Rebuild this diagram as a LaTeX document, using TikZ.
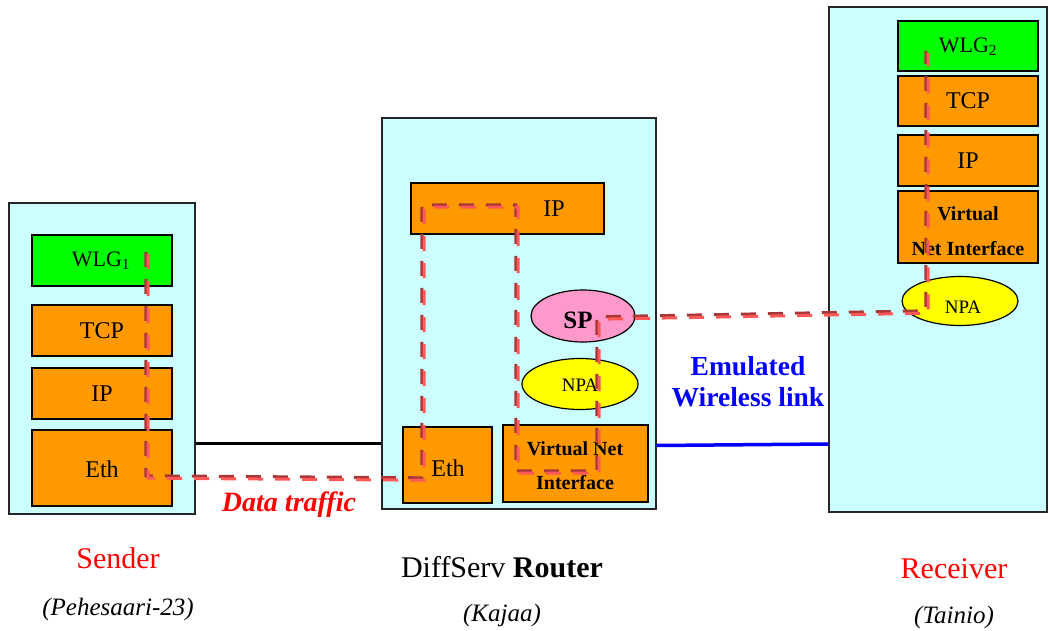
\documentclass[tikz,border=0pt]{standalone}
\usepackage{fontspec}
\setmainfont{Liberation Serif}
\usetikzlibrary{shapes.geometric}
\definecolor{cyanbg}{HTML}{CCFFFF}
\definecolor{orng}{HTML}{FF9900}
\definecolor{grn}{HTML}{00FF00}
\definecolor{pnk}{HTML}{FF99CC}
\definecolor{yel}{HTML}{FFFF00}
\definecolor{dred}{HTML}{A83838}
\definecolor{lred}{HTML}{FF5858}
\definecolor{txtred}{HTML}{FF0000}
\definecolor{txtblue}{HTML}{0000FF}
\newcommand{\fsz}[1]{\fontsize{#1}{#1}\selectfont}
\begin{document}
\begin{tikzpicture}[x=1pt,y=-1pt,
  host/.style={draw=black!85, line width=1.3pt, fill=cyanbg, rectangle, inner sep=0pt},
  layer/.style={draw=black, line width=1.3pt, fill=orng, rectangle, inner sep=0pt},
  app/.style={layer, fill=grn},
  oval/.style={draw=black, line width=1.2pt, ellipse, inner sep=0pt},
  lbl/.style={font=\fsz{24}, inner sep=0pt},
  blbl/.style={font=\fsz{20}\bfseries, inner sep=0pt},
  flowdark/.style={draw=dred, line width=3pt, dash pattern=on 15pt off 12pt, transform canvas={shift={(-1.2pt,1.2pt)}}},
  flowlight/.style={draw=lred, line width=3pt, dash pattern=on 15pt off 12pt, transform canvas={shift={(1.2pt,-1.2pt)}}},
]
\useasboundingbox (0,0) rectangle (1049,631);

% Sender
\node[host, minimum width=186pt, minimum height=311pt] (sender) at (102,358.5) {};
\node[app, minimum width=140pt, minimum height=51pt] (wlg1) at (102,260.5) {};
\node[layer, minimum width=140pt, minimum height=51pt] (stcp) at (102,330.5) {};
\node[layer, minimum width=140pt, minimum height=51pt] (sip) at (102,393.5) {};
\node[layer, minimum width=140pt, minimum height=76pt] (seth) at (102,468) {};
\node[font=\fsz{22}, inner sep=0pt] at (101,261) {WLG\textsubscript{1}};
\node[lbl] at (102,331) {TCP};
\node[lbl] at (102,394) {IP};
\node[lbl] at (102,469) {Eth};

% Router
\node[host, minimum width=274pt, minimum height=391pt] (router) at (519,313.5) {};
\node[layer, minimum width=193pt, minimum height=51pt] (rip) at (507.5,208.5) {};
\node[oval, fill=pnk, minimum width=104pt, minimum height=52pt] (sp) at (583,316) {};
\node[oval, fill=yel, minimum width=116pt, minimum height=51pt] (rnpa) at (580,384) {};
\node[layer, minimum width=89pt, minimum height=76pt] (reth) at (447.5,465) {};
\node[layer, minimum width=145pt, minimum height=77pt] (rvni) at (575.5,463.5) {};
\node[lbl] at (554,209) {IP};
\node[font=\fsz{25}\bfseries, inner sep=0pt] at (578,320) {SP};
\node[font=\fsz{19}, inner sep=0pt] at (580,385) {NPA};
\node[lbl] at (448,468) {Eth};
\node[blbl] at (575,449) {Virtual Net};
\node[blbl] at (575,483) {Interface};

% Receiver
\node[host, minimum width=218pt, minimum height=505pt] (receiver) at (938,259.5) {};
\node[app, minimum width=140pt, minimum height=50pt] (wlg2) at (968,46) {};
\node[layer, minimum width=140pt, minimum height=50pt] (qtcp) at (968,101) {};
\node[layer, minimum width=140pt, minimum height=51pt] (qip) at (968,160.5) {};
\node[layer, minimum width=140pt, minimum height=72pt] (qvni) at (968,227) {};
\node[oval, fill=yel, minimum width=116pt, minimum height=49pt] (qnpa) at (960,301) {};
\node[font=\fsz{22}, inner sep=0pt] at (968,47) {WLG\textsubscript{2}};
\node[lbl] at (968,101) {TCP};
\node[lbl] at (968,161) {IP};
\node[blbl] at (968,214) {Virtual};
\node[blbl] at (968,249) {Net Interface};
\node[font=\fsz{19}, inner sep=0pt] at (963,307) {NPA};

% Links
\coordinate (w1) at (sender.east |- 0,443);
\coordinate (w2) at (router.west |- 0,443);
\draw[line width=3pt, black] (w1) -- (w2);
\coordinate (b1) at (router.east |- 0,445.5);
\coordinate (b2) at (receiver.west |- 0,444);
\draw[line width=3.5pt, txtblue] (b1) -- (b2);

% Labels
\node[font=\fsz{28}\bfseries\itshape, text=txtred, inner sep=0pt] at (289,505) {Data traffic};
\node[font=\fsz{27.5}\bfseries, text=txtblue, inner sep=0pt] at (748,366) {Emulated};
\node[font=\fsz{27.5}\bfseries, text=txtblue, inner sep=0pt] at (748,397) {Wireless link};
\node[font=\fsz{30}, text=txtred, inner sep=0pt] at (118,558) {Sender};
\node[font=\fsz{25}\itshape, inner sep=0pt] at (118,609) {(Pehesaari-23)};
\node[font=\fsz{30}, inner sep=0pt] at (502,567) {DiffServ \textbf{Router}};
\node[font=\fsz{25}\itshape, inner sep=0pt] at (502,615) {(Kajaa)};
\node[font=\fsz{30}, text=txtred, inner sep=0pt] at (954,569) {Receiver};
\node[font=\fsz{25}\itshape, inner sep=0pt] at (954,617) {(Tainio)};

% Data path
\coordinate (d0) at (147,253);
\coordinate (d1) at (147,477);
\coordinate (d2) at (423,479);
\coordinate (d3) at (423,206);
\coordinate (d4) at (517,206);
\coordinate (d5) at (517,472);
\coordinate (d6) at (598,472);
\coordinate (d7) at (598,318);
\coordinate (d8) at (927,312);
\coordinate (d9) at (927,52);
\draw[flowdark] (d0) -- (d1) -- (d2) -- (d3) -- (d4) -- (d5) -- (d6) -- (d7) -- (d8) -- (d9);
\draw[flowlight] (d0) -- (d1) -- (d2) -- (d3) -- (d4) -- (d5) -- (d6) -- (d7) -- (d8) -- (d9);
\end{tikzpicture}
\end{document}
